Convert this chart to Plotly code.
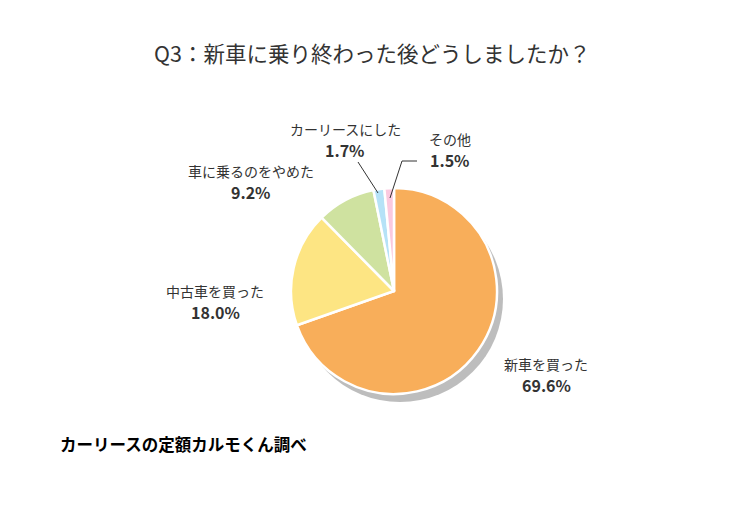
import plotly.graph_objects as go

# ---- data ----
title_text = "Q3：新車に乗り終わった後どうしましたか？"
categories = ["新車を買った", "中古車を買った", "車に乗るのをやめた", "カーリースにした", "その他"]
values = [69.6, 18.0, 9.2, 1.7, 1.5]
source_text = "カーリースの定額カルモくん調べ"

# ---- styles ----
colors = ["#F8AE5A", "#FDE583", "#CFE2A0", "#B5E2F7", "#FAC9DF"]
W, H = 750, 520
cx, cy, r = 394, 291, 103
shadow_dx, shadow_dy = 6, 8
FONT = "Noto Sans CJK JP"

def dom(cx_, cy_, r_):
    return dict(x=[(cx_ - r_) / W, (cx_ + r_) / W], y=[1 - (cy_ + r_) / H, 1 - (cy_ - r_) / H])

fig = go.Figure()
# shadow
fig.add_trace(go.Pie(values=[1], marker=dict(colors=["#BDBDBD"], line=dict(width=0)),
                     textinfo="none", hoverinfo="skip", sort=False,
                     domain=dom(cx + shadow_dx, cy + shadow_dy, r), showlegend=False))
# main pie
fig.add_trace(go.Pie(labels=categories, values=values, sort=False, direction="clockwise",
                     rotation=0, marker=dict(colors=colors, line=dict(color="white", width=2.5)),
                     textinfo="none", domain=dom(cx, cy, r), showlegend=False))

# label positions (pixel centers): (x, y_name, y_pct)
label_pos = [(546, 364, 385), (215, 291, 312), (251, 171, 192), (345, 129, 150), (450, 139, 160)]
annotations = []
for cat, val, (lx, ly1, ly2) in zip(categories, values, label_pos):
    annotations.append(dict(x=lx / W, y=1 - ly1 / H, xref="paper", yref="paper", text=cat,
                            showarrow=False, xanchor="center", yanchor="middle",
                            font=dict(family=FONT, size=14, color="#333333")))
    annotations.append(dict(x=lx / W, y=1 - ly2 / H, xref="paper", yref="paper",
                            text=f"<b>{val:.1f}%</b>",
                            showarrow=False, xanchor="center", yanchor="middle",
                            font=dict(family=FONT, size=16, color="#333333")))

annotations.append(dict(x=372 / W, y=1 - 53 / H, xref="paper", yref="paper", text=title_text,
                        showarrow=False, xanchor="center", yanchor="middle",
                        font=dict(family=FONT, size=21.5, color="#333333")))
annotations.append(dict(x=58 / W, y=1 - 444 / H, xref="paper", yref="paper",
                        text=f"<b>{source_text}</b>",
                        showarrow=False, xanchor="left", yanchor="middle",
                        font=dict(family=FONT, size=16.5, color="#000000")))

def P(x, y):
    return x / W, 1 - y / H

shapes = []
# leader line for カーリースにした
x0, y0 = P(358, 162); x1, y1 = P(378, 193)
shapes.append(dict(type="line", xref="paper", yref="paper", x0=x0, y0=y0, x1=x1, y1=y1,
                   line=dict(color="#333333", width=1)))
# leader line for その他
a = P(417, 161); b = P(402, 161); c = P(390, 198)
shapes.append(dict(type="path", xref="paper", yref="paper",
                   path=f"M {a[0]},{a[1]} L {b[0]},{b[1]} L {c[0]},{c[1]}",
                   line=dict(color="#333333", width=1)))

fig.update_layout(width=W, height=H, margin=dict(l=0, r=0, t=0, b=0),
                  paper_bgcolor="white", plot_bgcolor="white",
                  annotations=annotations, shapes=shapes)

fig.write_html("out.html")
